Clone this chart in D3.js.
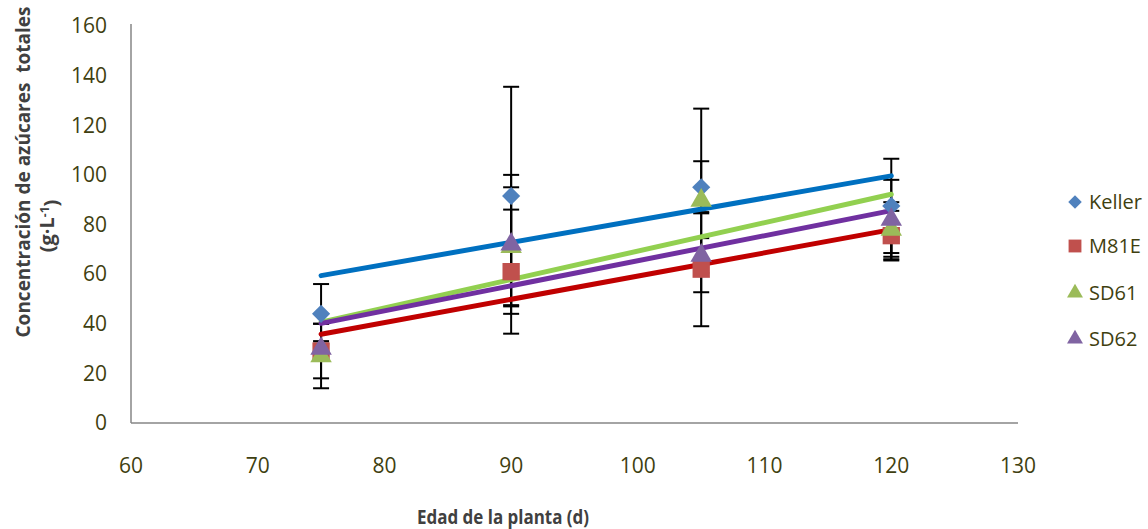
<!DOCTYPE html>
<html>
<head>
<meta charset="utf-8">
<script src="https://cdn.jsdelivr.net/npm/d3@7"></script>
<style>
  body { margin: 0; background: #fff; }
  svg { display: block; }
</style>
</head>
<body>
<div id="chart"></div>
<script>
var width = 1148, height = 529;
var margin = {top: 26, right: 130, bottom: 107, left: 131};

// data
const days = [75, 90, 105, 120];
const keller = [44, 91.5, 95, 87.5];
const kellerErr = [12, 44, 10.5, 19];
const m81e = [29, 61, 62, 75.5];
const m81eErr = [11, 25, 23, 10];
const sd61 = [27, 71, 89.7, 78];
const sd61Err = [13, 24, 37, 11];
const sd62 = [30, 72, 67.5, 82];
const sd62Err = [3, 28, 7, 16];
const xTicks = [60, 70, 80, 90, 100, 110, 120, 130];
const yTicks = [0, 20, 40, 60, 80, 100, 120, 140, 160];

const series = [
  {name: "Keller", vals: keller, err: kellerErr, marker: "#4F81BD", line: "#0070C0", shape: "diamond"},
  {name: "M81E", vals: m81e, err: m81eErr, marker: "#C0504D", line: "#C00000", shape: "square"},
  {name: "SD61", vals: sd61, err: sd61Err, marker: "#9BBB59", line: "#92D050", shape: "triangle"},
  {name: "SD62", vals: sd62, err: sd62Err, marker: "#8064A2", line: "#7030A0", shape: "triangle"}
];

const textCol = "#3f3f10";
const font = "'Open Sans', 'Liberation Sans', sans-serif";

// marker path, diamond = square turned 45deg
function markerPath(shape, k) {
  if (shape === "diamond") return d3.symbol().type(d3.symbolSquare).size(165 * k)();
  if (shape === "square") return d3.symbol().type(d3.symbolSquare).size(300 * k)();
  return d3.symbol().type(d3.symbolTriangle).size(200 * k)();
}
const rot = s => s === "diamond" ? " rotate(45)" : "";

const svg = d3.select("#chart").append("svg")
  .attr("width", width)
  .attr("height", height);

const x = d3.scaleLinear().domain([60, 130]).range([margin.left, 1018]);
const y = d3.scaleLinear().domain([0, 160]).range([height - margin.bottom + 1, margin.top]);

// axes lines
svg.append("line")
  .attr("x1", x(60)).attr("x2", x(60))
  .attr("y1", y(0)).attr("y2", y(160) - 2)
  .attr("stroke", "#868686").attr("stroke-width", 1.5);
svg.append("line")
  .attr("x1", x(60)).attr("x2", x(130))
  .attr("y1", y(0)).attr("y2", y(0))
  .attr("stroke", "#868686").attr("stroke-width", 1.5);

// tick labels
svg.append("g").selectAll("text").data(yTicks).enter().append("text")
  .attr("x", 107)
  .attr("y", d => y(d))
  .attr("dy", "0.35em")
  .attr("text-anchor", "end")
  .attr("font-family", font)
  .attr("font-size", "21px")
  .attr("fill", textCol)
  .text(d => d);

svg.append("g").selectAll("text").data(xTicks).enter().append("text")
  .attr("x", d => x(d))
  .attr("y", 473)
  .attr("text-anchor", "middle")
  .attr("font-family", font)
  .attr("font-size", "21px")
  .attr("fill", textCol)
  .text(d => d);

// axis titles
svg.append("text")
  .attr("x", 503).attr("y", 524)
  .attr("text-anchor", "middle")
  .attr("font-family", font)
  .attr("font-weight", "bold")
  .attr("font-size", "20px")
  .attr("textLength", 172)
  .attr("lengthAdjust", "spacingAndGlyphs")
  .attr("fill", "#404040")
  .text("Edad de la planta (d)");

svg.append("text")
  .attr("transform", "translate(30,172) rotate(-90)")
  .attr("text-anchor", "middle")
  .attr("xml:space", "preserve")
  .attr("font-family", font)
  .attr("font-weight", "bold")
  .attr("font-size", "19px")
  .attr("fill", "#404040")
  .text("Concentración de azúcares  totales");

const yt2 = svg.append("text")
  .attr("transform", "translate(54,226) rotate(-90)")
  .attr("text-anchor", "middle")
  .attr("font-family", font)
  .attr("font-weight", "bold")
  .attr("font-size", "20px")
  .attr("fill", "#404040");
yt2.append("tspan").text("(g·L");
yt2.append("tspan").attr("dy", "-0.45em").attr("font-size", "12px").text("-1");
yt2.append("tspan").attr("dy", "0.45em").text(")");

// error bars
const eb = svg.append("g");
series.forEach(s => {
  days.forEach((dd, i) => {
    const lo = s.vals[i] - s.err[i], hi = s.vals[i] + s.err[i];
    eb.append("line")
      .attr("x1", x(dd)).attr("x2", x(dd))
      .attr("y1", y(lo)).attr("y2", y(hi))
      .attr("stroke", "#000").attr("stroke-width", 2);
    [lo, hi].forEach(v => {
      eb.append("line")
        .attr("x1", x(dd) - 8).attr("x2", x(dd) + 8)
        .attr("y1", y(v)).attr("y2", y(v))
        .attr("stroke", "#000").attr("stroke-width", 2);
    });
  });
});

// linear trend lines (least squares over the points)
function fit(vals) {
  const mx = d3.mean(days), my = d3.mean(vals);
  const b = d3.sum(days, (d, i) => (d - mx) * (vals[i] - my)) / d3.sum(days, d => (d - mx) * (d - mx));
  return v => my + b * (v - mx);
}
series.forEach(s => {
  const f = fit(s.vals);
  svg.append("line")
    .attr("x1", x(75)).attr("y1", y(f(75)))
    .attr("x2", x(120)).attr("y2", y(f(120)))
    .attr("stroke", s.line)
    .attr("stroke-width", 5)
    .attr("stroke-linecap", "round");
});

// markers
series.forEach(s => {
  svg.append("g").selectAll("path").data(s.vals).enter().append("path")
    .attr("transform", (d, i) => `translate(${x(days[i])},${y(d)})` + rot(s.shape))
    .attr("d", markerPath(s.shape, 1))
    .attr("fill", s.marker);
});

// legend
const leg = svg.append("g").selectAll("g").data(series).enter().append("g")
  .attr("transform", (d, i) => `translate(1075,${[202, 246, 293, 339][i]})`);
leg.append("path")
  .attr("transform", d => "translate(0,0)" + rot(d.shape))
  .attr("d", d => markerPath(d.shape, 0.55))
  .attr("fill", d => d.marker);
leg.append("text")
  .attr("x", 14)
  .attr("dy", "0.35em")
  .attr("font-family", font)
  .attr("font-size", "20px")
  .attr("fill", textCol)
  .text(d => d.name);
</script>
</body>
</html>
